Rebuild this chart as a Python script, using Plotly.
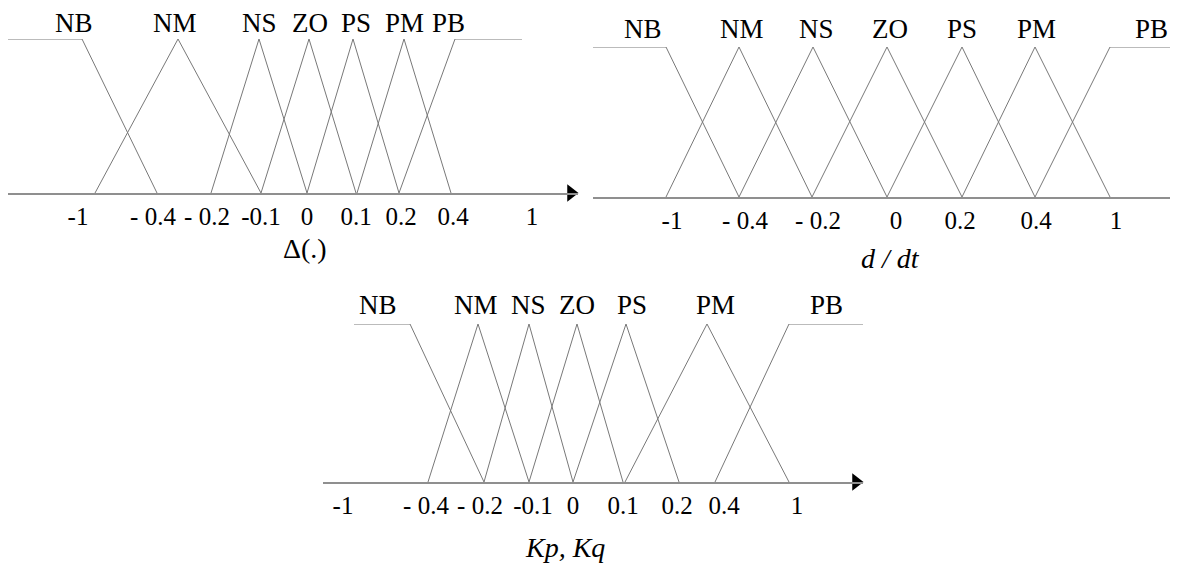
import plotly.graph_objects as go

# The page body has an 8 px margin, so the figure is drawn 8 px in from the top-left corner.
OFF = 8
W, H = 1178 - OFF, 564 - OFF
SERIF = "Liberation Serif"

SETS = ["NB", "NM", "NS", "ZO", "PS", "PM", "PB"]

# ---- Panel 1: Delta(.) (schematic positions along the axis) ----
p1_ticks = [78, 153, 207, 261, 307, 356, 401, 453, 532]
p1_ticktext = ["-1", "- 0.4", "- 0.2", "-0.1", "0", "0.1", "0.2", "0.4", "1"]
p1_NB = [8, 82, 157]
p1_NM = [95, 178, 261]
p1_NS = [211, 259, 307]
p1_ZO = [261, 309, 356]
p1_PS = [307, 353, 399]
p1_PM = [357, 404, 451]
p1_PB = [399, 455, 522]
p1_label_x = [74, 175, 259, 310, 356, 404, 448]

# ---- Panel 2: d/dt ----
p2_ticks = [672, 745, 818, 896, 960, 1036, 1116]
p2_ticktext = ["-1", "- 0.4", "- 0.2", "0", "0.2", "0.4", "1"]
p2_NB = [593, 666, 739]
p2_NM = [666, 739, 812]
p2_NS = [739, 813, 887]
p2_ZO = [812, 887, 962]
p2_PS = [887, 962, 1035]
p2_PM = [962, 1035, 1110]
p2_PB = [1035, 1110, 1180]
p2_label_x = [643, 742, 816, 890, 962, 1036, 1151]

# ---- Panel 3: Kp, Kq ----
p3_ticks = [343, 426, 480, 533, 573, 623, 677, 724, 797]
p3_ticktext = ["-1", "- 0.4", "- 0.2", "-0.1", "0", "0.1", "0.2", "0.4", "1"]
p3_NB = [354, 410, 484]
p3_NM = [428, 478, 529]
p3_NS = [484, 529, 573]
p3_ZO = [529, 577, 623]
p3_PS = [573, 626, 679]
p3_PM = [625, 707, 789]
p3_PB = [715, 789, 864]
p3_label_x = [378, 476, 528, 577, 632, 715, 826]

# membership grades of the three breakpoints
LEFT_SHOULDER = [1, 1, 0]
TRIANGLE = [0, 1, 0]
RIGHT_SHOULDER = [0, 1, 1]

panels = [
    dict(sets=[p1_NB, p1_NM, p1_NS, p1_ZO, p1_PS, p1_PM, p1_PB], ticks=p1_ticks, ticktext=p1_ticktext,
         labx=p1_label_x, x0=8, tip=578, base=193, top=39, laby=23,
         title="Δ(.)", title_x=305, title_y=248, italic=False),
    dict(sets=[p2_NB, p2_NM, p2_NS, p2_ZO, p2_PS, p2_PM, p2_PB], ticks=p2_ticks, ticktext=p2_ticktext,
         labx=p2_label_x, x0=593, tip=1183, base=197, top=47, laby=29,
         title="d / dt", title_x=890, title_y=258, italic=True),
    dict(sets=[p3_NB, p3_NM, p3_NS, p3_ZO, p3_PS, p3_PM, p3_PB], ticks=p3_ticks, ticktext=p3_ticktext,
         labx=p3_label_x, x0=323, tip=863, base=482, top=324, laby=305,
         title="Kp, Kq", title_x=565, title_y=547, italic=True),
]

MF_COLOR = "#787878"
AXIS_COLOR = "#8f8f8f"


def px_x(v):
    return (v - OFF) / W


def px_y(v):
    return 1 - (v - OFF) / H


fig = go.Figure()
layout = dict(
    width=W, height=H, autosize=False,
    margin=dict(l=0, r=0, t=0, b=0),
    paper_bgcolor="white", plot_bgcolor="white",
    showlegend=False,
    annotations=[],
)

for i, p in enumerate(panels):
    sfx = "" if i == 0 else str(i + 1)
    xa, ya = "x" + sfx, "y" + sfx
    for j, (name, xs) in enumerate(zip(SETS, p["sets"])):
        ys = LEFT_SHOULDER if j == 0 else (RIGHT_SHOULDER if j == len(SETS) - 1 else TRIANGLE)
        fig.add_trace(go.Scatter(x=xs, y=ys, mode="lines", name=name,
                                 line=dict(color=MF_COLOR, width=1),
                                 xaxis=xa, yaxis=ya, cliponaxis=False, hoverinfo="skip"))
    # arrow head at the end of the axis
    fig.add_trace(go.Scatter(x=[p["tip"] - 7], y=[0], mode="markers",
                             marker=dict(symbol="triangle-right", size=15, color="black"),
                             xaxis=xa, yaxis=ya, cliponaxis=False, hoverinfo="skip"))
    xmin = max(p["x0"], OFF)
    xmax = min(p["tip"], OFF + W)
    layout["xaxis" + sfx] = dict(
        domain=[px_x(xmin), px_x(xmax)], range=[xmin, xmax], anchor=ya,
        showline=True, linecolor=AXIS_COLOR, linewidth=2,
        ticks="", tickvals=p["ticks"], ticktext=p["ticktext"],
        tickfont=dict(family=SERIF, size=25, color="black"),
        ticklabelstandoff=0,
        showgrid=False, zeroline=False, fixedrange=True,
    )
    layout["yaxis" + sfx] = dict(
        domain=[px_y(p["base"]), px_y(p["top"])], range=[0, 1], anchor=xa,
        visible=False, showgrid=False, zeroline=False, fixedrange=True,
    )
    for name, lx in zip(SETS, p["labx"]):
        layout["annotations"].append(dict(
            text=name, x=lx, xref=xa, y=px_y(p["laby"]), yref="paper",
            showarrow=False, xanchor="center", yanchor="middle",
            font=dict(family=SERIF, size=27, color="black")))
    ttl = "<i>" + p["title"] + "</i>" if p["italic"] else p["title"]
    layout["annotations"].append(dict(
        text=ttl, x=p["title_x"], xref=xa, y=px_y(p["title_y"]), yref="paper",
        showarrow=False, xanchor="center", yanchor="middle",
        font=dict(family=SERIF, size=28, color="black")))

fig.update_layout(**layout)
fig.write_html("out.html")
